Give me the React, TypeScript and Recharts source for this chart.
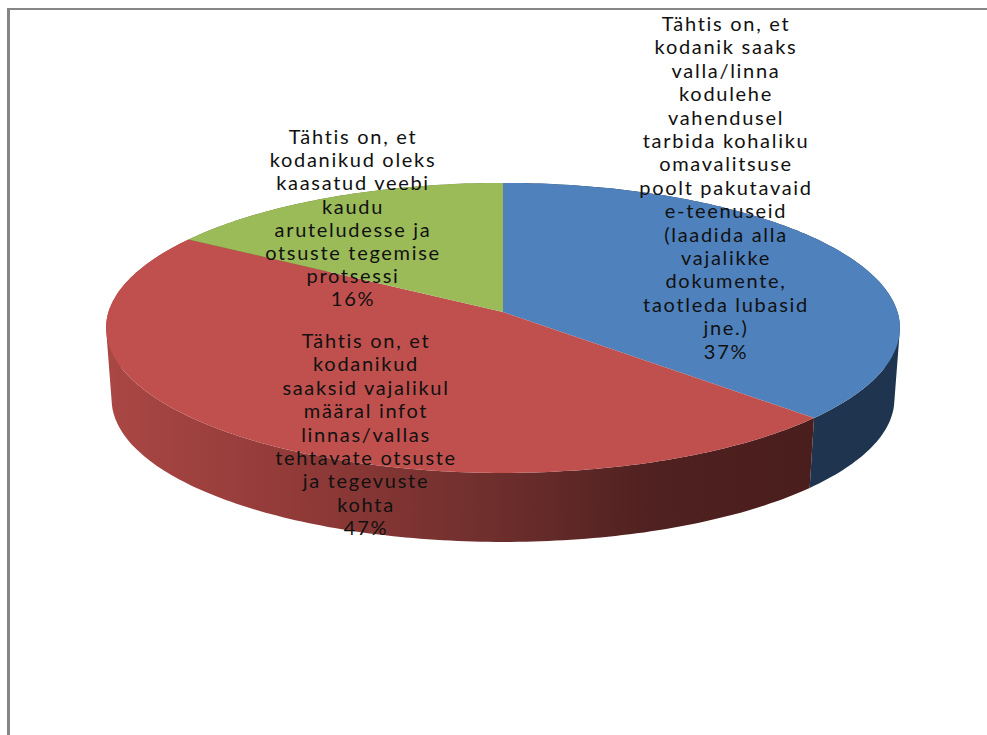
import { PieChart, Pie } from 'recharts'

const categories = [
  'Tähtis on, et kodanik saaks valla/linna kodulehe vahendusel tarbida kohaliku omavalitsuse poolt pakutavaid e-teenuseid (laadida alla vajalikke dokumente, taotleda lubasid jne.)',
  'Tähtis on, et kodanikud saaksid vajalikul määral infot linnas/vallas tehtavate otsuste ja tegevuste kohta',
  'Tähtis on, et kodanikud oleks kaasatud veebi kaudu aruteludesse ja otsuste tegemise protsessi',
]
const values = [37, 47, 16]
const topColors = ['#4F81BD', '#C0504D', '#9BBB59']
const wallColors = ['#1F344F', 'url(#redWall)', '#5E7235']

const labelLines = [
  ['Tähtis on, et', 'kodanik saaks', 'valla/linna', 'kodulehe', 'vahendusel', 'tarbida kohaliku', 'omavalitsuse', 'poolt pakutavaid', 'e-teenuseid', '(laadida alla', 'vajalikke', 'dokumente,', 'taotleda lubasid', 'jne.)'],
  ['Tähtis on, et', 'kodanikud', 'saaksid vajalikul', 'määral infot', 'linnas/vallas', 'tehtavate otsuste', 'ja tegevuste', 'kohta'],
  ['Tähtis on, et', 'kodanikud oleks', 'kaasatud veebi', 'kaudu', 'aruteludesse ja', 'otsuste tegemise', 'protsessi'],
]

// where each label block sits: centre x, first line y, line pitch
const labelBoxes = [
  { x: 726, y: 31, pitch: 23.4 },
  { x: 366, y: 348, pitch: 23.4 },
  { x: 353, y: 144, pitch: 23.2 },
]

const topData = categories.map((name, i) => ({ name, value: values[i], fill: topColors[i] }))
const wallData = categories.map((name, i) => ({ name, value: values[i], fill: wallColors[i] }))

// the disc is seen in perspective: far edge shrinks, near edge grows
const CX = 503
const CY = 312
const RX = 394.5
const RY = 143.2
const TILT = 0.11
const BOTTOM_CY = 383.5
const BOTTOM_RX = 389
const BOTTOM_RY = 141

type Pt = [number, number]

const project = (deg: number, cx: number, cy: number, rx: number, ry: number): Pt => {
  const a = (deg * Math.PI) / 180
  const u = Math.cos(a)
  const v = Math.sin(a)
  const w = 1 + TILT * v
  return [cx + (rx * u) / w, cy - (ry * v) / w]
}

const arc = (start: number, end: number, cx: number, cy: number, rx: number, ry: number) => {
  const steps = Math.max(2, Math.ceil(Math.abs(end - start)))
  const pts: Pt[] = []
  for (let i = 0; i <= steps; i++) {
    pts.push(project(start + ((end - start) * i) / steps, cx, cy, rx, ry))
  }
  return pts
}

const fmt = (p: Pt) => `${p[0].toFixed(1)},${p[1].toFixed(1)}`

function TopSlice(props: any) {
  const { cx, cy, outerRadius, startAngle, endAngle, fill } = props
  const pts = arc(startAngle, endAngle, cx, cy, outerRadius, RY)
  return <polygon points={[`${cx},${cy}`, ...pts.map(fmt)].join(' ')} fill={fill} />
}

// one quad per degree, all wound the same way so nonzero fill never cancels
function WallSlice(props: any) {
  const { cx, cy, outerRadius, startAngle, endAngle, fill } = props
  const top = arc(startAngle, endAngle, cx, cy, outerRadius, RY)
  const bottom = arc(startAngle, endAngle, cx, BOTTOM_CY, BOTTOM_RX, BOTTOM_RY)
  let d = ''
  for (let i = 0; i < top.length - 1; i++) {
    const quad = [top[i], top[i + 1], bottom[i + 1], bottom[i]]
    let area = 0
    quad.forEach((p, k) => {
      const q = quad[(k + 1) % 4]
      area += p[0] * q[1] - q[0] * p[1]
    })
    if (area < 0) quad.reverse()
    d += `M${quad.map(fmt).join('L')}Z`
  }
  return <path d={d} fill={fill} />
}

function SliceLabel({ index, percent }: any) {
  const box = labelBoxes[index]
  const lines = [...labelLines[index], `${Math.round(percent * 100)}%`]
  return (
    <text
      x={box.x}
      y={box.y}
      textAnchor="middle"
      fontFamily="Lato"
      fontSize={20}
      letterSpacing={1.7}
      fill="#111"
    >
      {lines.map((line, i) => (
        <tspan key={i} x={box.x} y={box.y + i * box.pitch}>
          {line}
        </tspan>
      ))}
    </text>
  )
}

export default function App() {
  return (
    <div style={{ position: 'absolute', left: 0, top: 0, width: 987, height: 735, overflow: 'hidden', background: '#fff' }}>
      <div
        style={{
          position: 'absolute',
          left: 7,
          top: 8,
          right: 0,
          bottom: 0,
          borderLeft: '3px solid #868686',
          borderTop: '2px solid #868686',
        }}
      />
      <div style={{ position: 'absolute', left: 0, top: 0 }}>
        <PieChart width={987} height={735} margin={{ top: 0, right: 0, bottom: 0, left: 0 }}>
          <defs>
            <linearGradient id="redWall" x1="0" y1="0" x2="1" y2="0">
              <stop offset="0%" stopColor="#AA4744" />
              <stop offset="30%" stopColor="#8E3937" />
              <stop offset="56%" stopColor="#6C2E2C" />
              <stop offset="77%" stopColor="#4F2120" />
              <stop offset="100%" stopColor="#4A1E1D" />
            </linearGradient>
          </defs>
          <Pie
            data={wallData}
            dataKey="value"
            cx={CX}
            cy={CY}
            outerRadius={RX}
            startAngle={90}
            endAngle={-270}
            stroke="none"
            shape={WallSlice}
            isAnimationActive={false}
          />
          <Pie
            data={topData}
            dataKey="value"
            cx={CX}
            cy={CY}
            outerRadius={RX}
            startAngle={90}
            endAngle={-270}
            stroke="none"
            shape={TopSlice}
            label={SliceLabel}
            labelLine={false}
            isAnimationActive={false}
          />
        </PieChart>
      </div>
    </div>
  )
}
